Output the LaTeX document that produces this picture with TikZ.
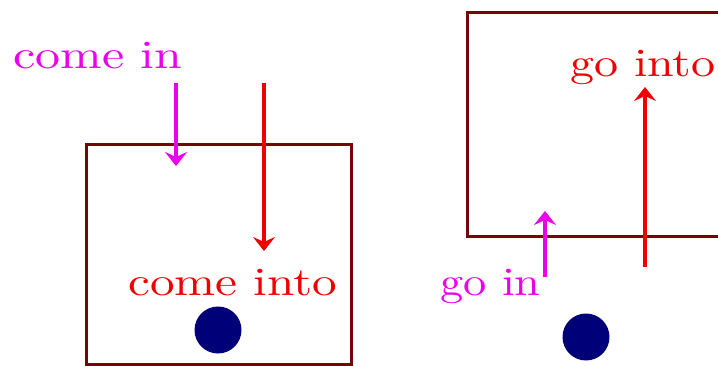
\documentclass[tikz,border=0pt]{standalone}
\usepackage{graphicx}
\usepackage{fontspec}
\newfontfamily\lblfont{lmroman10-regular.otf}
\usetikzlibrary{arrows.meta}
\definecolor{boxred}{RGB}{120,5,5}
\definecolor{mag}{RGB}{235,0,235}
\definecolor{arred}{RGB}{240,0,0}
\definecolor{dotblue}{RGB}{0,0,120}
\tikzset{
  lbl/.style={inner sep=0pt, anchor=base west, font=\lblfont\fontsize{40}{44}\selectfont},
  frame/.style={draw=boxred, line width=3pt},
  arr/.style={line width=4pt, -{Stealth[width=22pt,length=14pt,inset=5pt]}},
  dot/.style={circle, fill=dotblue, minimum size=47pt, inner sep=0pt},
}
\newcommand{\wide}[2]{\scalebox{#1}[1]{#2}}
\begin{document}
\begin{tikzpicture}[x=1pt,y=-1pt]
\useasboundingbox (0,0) rectangle (718,366);
\fill[white] (0,0) rectangle (718,366);
\begin{scope}
\clip (0,0) rectangle (718,366);
% boxes
\draw[frame] (86,145) rectangle (351,364);
\draw[frame] (467,13) rectangle (740,237);
% labels
\node[lbl, text=mag] (comein) at (13,69) {\wide{1.25}{come in}};
\node[lbl, text=arred] (comeinto) at (128,295) {\wide{1.23}{come into}};
\node[lbl, text=mag] (goin) at (440,296) {\wide{1.16}{go in}};
\node[lbl, text=arred] (gointo) at (570,77) {\wide{1.2}{go into}};
% dots
\node[dot] (dotl) at (218,330) {};
\node[dot] (dotr) at (586,337) {};
% arrow endpoints
\coordinate (a1s) at (176,83);
\coordinate (a1e) at (176,166);
\coordinate (a2s) at (264,83);
\coordinate (a2e) at (264,251);
\coordinate (a3s) at (545,277);
\coordinate (a3e) at (545,211);
\coordinate (a4s) at (645,267);
\coordinate (a4e) at (645,87);
\draw[arr, mag] (a1s) -- (a1e);
\draw[arr, arred] (a2s) -- (a2e);
\draw[arr, mag] (a3s) -- (a3e);
\draw[arr, arred] (a4s) -- (a4e);
\end{scope}
\end{tikzpicture}
\end{document}
